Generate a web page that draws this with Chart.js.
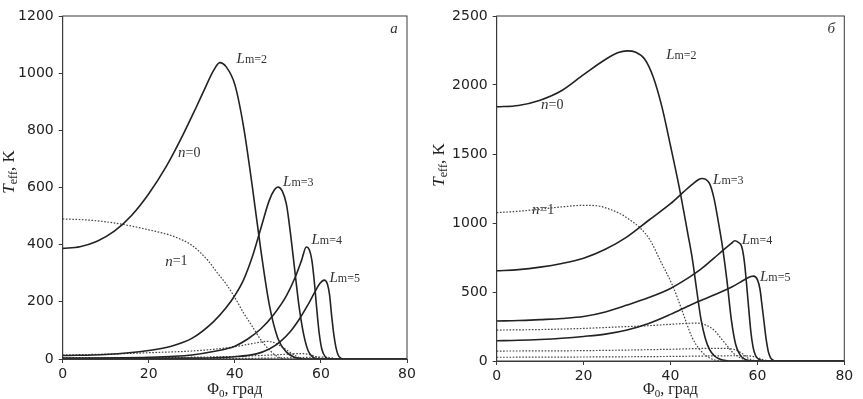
<!DOCTYPE html>
<html lang="ru">
<head>
<meta charset="UTF-8">
<title>T_eff от Φ0</title>
<script src="https://cdn.jsdelivr.net/npm/chart.js"></script>
<style>
  body { margin: 0; background: #fff; width: 863px; height: 399px; position: relative; overflow: hidden; }
  .panel { position: absolute; top: 0; }
</style>
</head>
<body>
  <div class="panel" style="left:0"><canvas id="chartA" width="430" height="399"></canvas></div>
  <div class="panel" style="left:430px"><canvas id="chartB" width="433" height="399"></canvas></div>

  <script>
    // Панель а: n=0 (сплошные) и n=1 (пунктир), Lm = 2..5, точки [Φ0, Teff]
    const aN0Lm2 = [[0,387],[4,393],[8,412],[12,447],[16,502],[20,578],[24,672],[28,786],[31,880],[33,945],[35,1008],[36.5,1037],[38,1022],[40,960],[42,815],[44,610],[46,385],[48,190],[50,72],[52,24],[54,5],[56,0],[80,0]];
    const aN0Lm3 = [[0,12],[10,16],[20,30],[25,44],[30,72],[35,130],[38,180],[40,222],[42,276],[44,355],[46,455],[48,555],[49.2,592],[50,602],[51,588],[52,540],[53,430],[54,300],[55,175],[56,85],[57,30],[58,8],[59,1],[60,0],[80,0]];
    const aN0Lm4 = [[0,3],[20,6],[30,14],[35,26],[40,45],[43,70],[46,105],[49,155],[52,222],[54,285],[55.5,345],[56.6,392],[57.3,382],[57.9,345],[58.5,265],[59,180],[59.6,90],[60.2,35],[61,8],[62,0],[80,0]];
    const aN0Lm5 = [[0,1],[30,3],[40,8],[45,18],[48,35],[50.5,60],[53,98],[55,140],[57,190],[58.5,232],[59.8,265],[60.8,276],[61.5,262],[62,225],[62.5,150],[63,85],[63.5,40],[64,14],[64.6,3],[65.2,0],[80,0]];
    const aN1Lm2 = [[0,490],[5,487],[10,480],[15,468],[20,452],[25,433],[28,415],[30,398],[32,372],[34,340],[36,300],[38,262],[40,215],[42,162],[44,115],[46,68],[48,32],[49.5,12],[51,2],[52,0],[80,0]];
    const aN1Lm3 = [[0,14],[10,17],[20,22],[30,28],[35,34],[40,43],[44.8,56],[47.5,62],[49,58],[51,42],[52.8,24],[54.5,8],[56,1],[57,0],[80,0]];
    const aN1Lm4 = [[0,4],[20,5],[40,9],[50,15],[55,19],[57,17],[59,8],[60.5,2],[62,0],[80,0]];
    const aN1Lm5 = [[0,1],[40,2],[55,5],[60,7],[62,5],[63.5,1],[65,0],[80,0]];

    // Панель б
    const bN0Lm2 = [[0,1842],[5,1852],[10,1890],[15,1960],[20,2075],[25,2185],[28,2235],[30,2247],[32,2238],[34,2190],[36,2060],[38,1845],[40,1560],[42,1260],[44,920],[45,745],[46,520],[47,305],[48,165],[49,82],[50,40],[51,18],[52,7],[53,2],[54,0],[80,0]];
    const bN0Lm3 = [[0,654],[5,662],[10,680],[15,707],[20,745],[25,810],[30,900],[35,1020],[40,1140],[43,1225],[45,1280],[46.5,1315],[47.2,1323],[48,1318],[49,1285],[50,1180],[51,1010],[52,820],[53,580],[54,300],[55,120],[56,45],[57,15],[58,4],[59,0],[80,0]];
    const bN0Lm4 = [[0,290],[5,293],[10,300],[15,308],[20,322],[25,355],[30,405],[35,460],[40,526],[44,600],[47,665],[50,745],[52,800],[54,852],[54.8,871],[55.6,860],[56.4,828],[57,720],[57.5,560],[58,380],[58.5,210],[59,100],[59.5,45],[60,20],[61,4],[62,0],[80,0]];
    const bN0Lm5 = [[0,147],[5,150],[10,156],[15,165],[20,178],[25,195],[30,225],[35,272],[40,338],[45,412],[50,478],[54,535],[56,570],[57.5,598],[58.5,612],[59.1,615],[60,590],[60.6,520],[61,420],[61.5,290],[62,160],[62.5,70],[63,25],[63.5,8],[64.2,0],[80,0]];
    const bN1Lm2 = [[0,1075],[5,1085],[10,1100],[15,1117],[20,1128],[23,1125],[26,1100],[29,1057],[31,1015],[33,965],[35.3,876],[37.6,731],[40.6,538],[42.9,345],[44.9,176],[46.8,80],[49.1,20],[51,2],[52,0],[80,0]];
    const bN1Lm3 = [[0,224],[10,228],[20,236],[28,247],[35,256],[40,266],[44,273],[46,275],[48,262],[50,225],[51.5,170],[53,112],[54.5,56],[56,24],[57.5,6],[59,0],[80,0]];
    const bN1Lm4 = [[0,72],[20,75],[40,85],[50,92],[53,92],[55,80],[56.5,55],[58,18],[59.5,3],[61,0],[80,0]];
    const bN1Lm5 = [[0,27],[20,29],[40,33],[55,38],[58,37],[60,25],[61.5,8],[63,0],[80,0]];

    const xTicks = [0, 20, 40, 60, 80];
    const aYTicks = [0, 200, 400, 600, 800, 1000, 1200];
    const bYTicks = [0, 500, 1000, 1500, 2000, 2500];

    // подписи кривых: [Φ0, Teff, основа, остаток]
    const aNotes = [[40.4,1051,'L','m=2'],[26.8,719,'n','=0'],[51.2,620,'L','m=3'],[23.8,340,'n','=1'],[57.8,416,'L','m=4'],[62,284,'L','m=5']];
    const bNotes = [[39,2216,'L','m=2'],[10.2,1854,'n','=0'],[49.8,1311,'L','m=3'],[8.1,1094,'n','=1'],[56.4,876,'L','m=4'],[60.6,611,'L','m=5']];

    const pts = arr => arr.map(p => ({x: p[0], y: p[1]}));
    const solid = arr => ({ data: pts(arr), borderColor: '#222', borderWidth: 1.6, pointRadius: 0, cubicInterpolationMode: 'monotone', fill: false });
    const dotted = arr => ({ data: pts(arr), borderColor: '#444', borderWidth: 1.2, borderDash: [1.6, 1.6], pointRadius: 0, cubicInterpolationMode: 'monotone', fill: false });

    const notesPlugin = {
      id: 'notes',
      afterDraw(chart, args, o) {
        const {ctx, chartArea: a, scales: {x, y}} = chart;
        ctx.save();
        // рамка как в matplotlib
        ctx.strokeStyle = '#3a3a3a';
        ctx.lineWidth = 1;
        ctx.strokeRect(a.left, a.top, a.right - a.left, a.bottom - a.top);
        ctx.fillStyle = '#333';
        ctx.textBaseline = 'middle';
        o.notes.forEach(n => {
          let px = x.getPixelForValue(n[0]);
          const py = y.getPixelForValue(n[1]);
          ctx.font = 'italic 15px "Liberation Serif"';
          ctx.textAlign = 'left';
          ctx.fillText(n[2], px, py);
          px += ctx.measureText(n[2]).width;
          ctx.font = (n[2] === 'L' ? '12px' : '14px') + ' "Liberation Serif"';
          ctx.fillText(n[3], px, py + (n[2] === 'L' ? 1 : 0));
        });
        // буква панели
        ctx.font = 'italic 15px "Liberation Serif"';
        ctx.textAlign = 'center';
        ctx.fillText(o.letter, a.right - 13, a.top + 13);
        // подпись оси X: Φ0, град
        ctx.fillStyle = '#222';
        ctx.font = '16px "Liberation Serif"';
        const cx = (a.left + a.right) / 2;
        const w1 = ctx.measureText('Φ').width;
        ctx.font = '11px "Liberation Serif"';
        const w2 = ctx.measureText('0').width;
        ctx.font = '16px "Liberation Serif"';
        const w3 = ctx.measureText(', град').width;
        let sx = cx - (w1 + w2 + w3) / 2;
        const ty = o.titleY;
        ctx.textAlign = 'left';
        ctx.fillText('Φ', sx, ty);
        ctx.font = '11px "Liberation Serif"';
        ctx.fillText('0', sx + w1, ty + 4);
        ctx.font = '16px "Liberation Serif"';
        ctx.fillText(', град', sx + w1 + w2, ty);
        // подпись оси Y: Teff, K
        ctx.translate(o.yTitleX, o.yTitleY);
        ctx.rotate(-Math.PI / 2);
        ctx.font = 'italic 17px "Liberation Serif"';
        const v1 = ctx.measureText('T').width;
        ctx.font = '12px "Liberation Serif"';
        const v2 = ctx.measureText('eff').width;
        ctx.font = '17px "Liberation Serif"';
        const v3 = ctx.measureText(', K').width;
        sx = -(v1 + v2 + v3) / 2;
        ctx.font = 'italic 17px "Liberation Serif"';
        ctx.fillText('T', sx, 0);
        ctx.font = '12px "Liberation Serif"';
        ctx.fillText('eff', sx + v1, 4);
        ctx.font = '17px "Liberation Serif"';
        ctx.fillText(', K', sx + v1 + v2, 0);
        ctx.restore();
      }
    };

    function makeChart(id, sets, yTicks, yMax, yWidth, xHeight, padRight, notes, letter, yTitleY) {
      return new Chart(document.getElementById(id), {
        type: 'line',
        data: { datasets: sets },
        options: {
          responsive: false,
          animation: false,
          events: [],
          layout: { padding: { top: 16, right: padRight, bottom: 0, left: 0 } },
          plugins: {
            legend: { display: false },
            tooltip: { enabled: false },
            notes: { notes: notes, letter: letter, titleY: 390, yTitleX: 10, yTitleY: yTitleY }
          },
          scales: {
            x: {
              type: 'linear', min: 0, max: 80,
              afterFit: s => { s.height = xHeight; },
              afterBuildTicks: s => { s.ticks = xTicks.map(v => ({value: v})); },
              grid: { drawOnChartArea: false, tickLength: 4, color: '#3a3a3a' },
              border: { color: '#3a3a3a' },
              ticks: { color: '#222', padding: 3, callback: v => String(v), font: { family: '"DejaVu Sans"', size: 14 } }
            },
            y: {
              type: 'linear', min: 0, max: yMax,
              afterFit: s => { s.width = yWidth; },
              afterBuildTicks: s => { s.ticks = yTicks.map(v => ({value: v})); },
              grid: { drawOnChartArea: false, tickLength: 4, color: '#3a3a3a' },
              border: { color: '#3a3a3a' },
              ticks: { color: '#222', padding: 5, callback: v => String(v), font: { family: '"DejaVu Sans"', size: 14 } }
            }
          }
        },
        plugins: [notesPlugin]
      });
    }

    makeChart('chartA',
      [solid(aN0Lm2), solid(aN0Lm3), solid(aN0Lm4), solid(aN0Lm5), dotted(aN1Lm2), dotted(aN1Lm3), dotted(aN1Lm4), dotted(aN1Lm5)],
      aYTicks, 1200, 62.7, 40, 23, aNotes, 'a', 172);
    makeChart('chartB',
      [solid(bN0Lm2), solid(bN0Lm3), solid(bN0Lm4), solid(bN0Lm5), dotted(bN1Lm2), dotted(bN1Lm3), dotted(bN1Lm4), dotted(bN1Lm5)],
      bYTicks, 2500, 66.7, 38, 18.7, bNotes, 'б', 165);
  </script>
</body>
</html>
